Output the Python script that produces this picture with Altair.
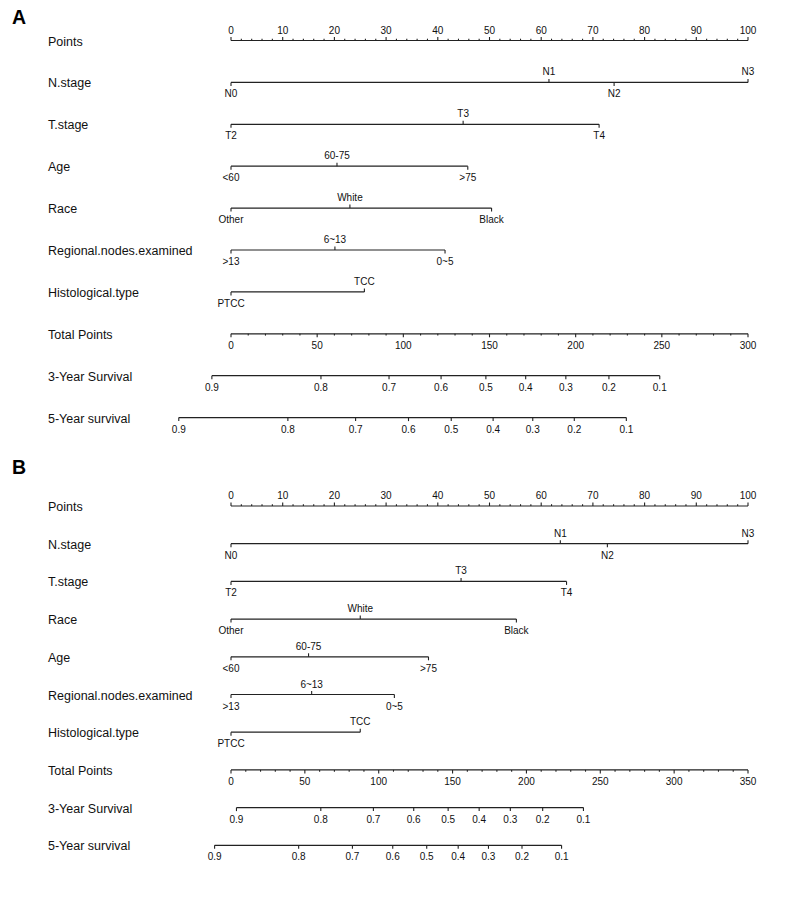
import altair as alt
import pandas as pd

# ---------------- data ----------------
SURV_LABELS = ["0.9", "0.8", "0.7", "0.6", "0.5", "0.4", "0.3", "0.2", "0.1"]

# Panel A
A_ROWS = ["Points", "N.stage", "T.stage", "Age", "Race", "Regional.nodes.examined",
          "Histological.type", "Total Points", "3-Year Survival", "5-Year survival"]
A_N_LEVELS = ["N0", "N1", "N2", "N3"]
A_N_PTS = [0, 61.5, 74.1, 100]
A_T_LEVELS = ["T2", "T3", "T4"]
A_T_PTS = [0, 44.9, 71.2]
A_AGE_LEVELS = ["<60", "60-75", ">75"]
A_AGE_PTS = [0, 20.5, 45.8]
A_RACE_LEVELS = ["Other", "White", "Black"]
A_RACE_PTS = [0, 23.0, 50.4]
A_NODES_LEVELS = [">13", "6~13", "0~5"]
A_NODES_PTS = [0, 20.1, 41.4]
A_HIST_LEVELS = ["PTCC", "TCC"]
A_HIST_PTS = [0, 25.8]
A_TOTAL_MAX = 300
A_SURV3_TP = [-11.1, 52.2, 91.7, 121.9, 147.9, 171.0, 194.3, 219.3, 248.8]
A_SURV5_TP = [-30.3, 33.0, 72.3, 103.0, 127.8, 152.1, 175.1, 199.2, 229.4]

# Panel B
B_ROWS = ["Points", "N.stage", "T.stage", "Race", "Age", "Regional.nodes.examined",
          "Histological.type", "Total Points", "3-Year Survival", "5-Year survival"]
B_N_LEVELS = ["N0", "N1", "N2", "N3"]
B_N_PTS = [0, 63.7, 72.8, 100]
B_T_LEVELS = ["T2", "T3", "T4"]
B_T_PTS = [0, 44.5, 64.9]
B_RACE_LEVELS = ["Other", "White", "Black"]
B_RACE_PTS = [0, 25.0, 55.2]
B_AGE_LEVELS = ["<60", "60-75", ">75"]
B_AGE_PTS = [0, 15.0, 38.2]
B_NODES_LEVELS = [">13", "6~13", "0~5"]
B_NODES_PTS = [0, 15.6, 31.6]
B_HIST_LEVELS = ["PTCC", "TCC"]
B_HIST_PTS = [0, 25.0]
B_TOTAL_MAX = 350
B_SURV3_TP = [3.7, 60.8, 96.4, 123.7, 147.0, 168.0, 189.1, 211.0, 238.6]
B_SURV5_TP = [-11.1, 45.8, 82.2, 109.5, 132.5, 153.8, 174.3, 197.0, 223.8]

# ---------------- style ----------------
FONT = "Liberation Sans"
LINE = "#222222"
TEXT = "#111111"
W = 794
H = 440
PX_PER_PT = 5.17
X_LO = -223 / PX_PER_PT
X_HI = X_LO + W / PX_PER_PT


def build_panel(letter, letter_y, rows, variables, total_max, surv3, surv5,
                spacing, first_y):
    segs, ticks, labels = [], [], []

    def tick(row, x, direction, length):
        # direction: +1 draws downward on page, -1 upward
        ticks.append(dict(row=row, x=x, y2=row + direction * length / spacing))

    # Points axis
    segs.append(dict(row=0, x=0, x2=100))
    for v in range(0, 101, 2):
        tick(0, v, -1, 3.5 if v % 10 == 0 else 1.8)
    for v in range(0, 101, 10):
        labels.append(dict(row=0, x=v, text=str(v), pos="above"))

    # variables
    for i, (lv, pt) in enumerate(variables, start=1):
        segs.append(dict(row=i, x=min(pt), x2=max(pt)))
        order = sorted(range(len(pt)), key=lambda k: pt[k])
        for rank, k in enumerate(order):
            below = rank % 2 == 0
            tick(i, pt[k], 1 if below else -1, 3.5)
            labels.append(dict(row=i, x=pt[k], text=lv[k],
                               pos="below" if below else "above"))

    # Total points
    sc = 100.0 / total_max
    segs.append(dict(row=7, x=0, x2=100))
    for v in range(0, total_max + 1, 10):
        tick(7, v * sc, 1, 3.5 if v % 50 == 0 else 1.8)
        if v % 50 == 0:
            labels.append(dict(row=7, x=v * sc, text=str(v), pos="below"))

    # survival
    for r, tp in [(8, surv3), (9, surv5)]:
        xs = [t * sc for t in tp]
        segs.append(dict(row=r, x=min(xs), x2=max(xs)))
        for xv, lab in zip(xs, SURV_LABELS):
            tick(r, xv, 1, 3.5)
            labels.append(dict(row=r, x=xv, text=lab, pos="below"))

    lo = -first_y / spacing
    hi = lo + H / spacing
    xs = alt.Scale(domain=[X_LO, X_HI], nice=False, zero=False)
    ys = alt.Scale(domain=[lo, hi], nice=False, zero=False, reverse=True)
    X = alt.X("x:Q", scale=xs, axis=None)
    Y = alt.Y("row:Q", scale=ys, axis=None)

    seg_df = pd.DataFrame(segs)
    tick_df = pd.DataFrame(ticks)
    lab_df = pd.DataFrame(labels)
    row_df = pd.DataFrame({"row": list(range(len(rows))), "name": rows})

    lines = alt.Chart(seg_df).mark_rule(color=LINE, strokeWidth=1.2).encode(
        x=X, x2="x2:Q", y=Y)
    tk = alt.Chart(tick_df).mark_rule(color=LINE, strokeWidth=1.1).encode(
        x=X, y=Y, y2="y2:Q")
    above = alt.Chart(lab_df).transform_filter(alt.datum.pos == "above").mark_text(
        font=FONT, fontSize=10, color=TEXT, baseline="middle", dy=-10).encode(
        x=X, y=Y, text="text:N")
    below = alt.Chart(lab_df).transform_filter(alt.datum.pos == "below").mark_text(
        font=FONT, fontSize=10, color=TEXT, baseline="middle", dy=12).encode(
        x=X, y=Y, text="text:N")
    names = alt.Chart(row_df).mark_text(
        font=FONT, fontSize=12.5, color=TEXT, align="left", baseline="middle",
        dy=1).encode(x=alt.value(40), y=Y, text="name:N")
    lett = alt.Chart(pd.DataFrame({"t": [letter]})).mark_text(
        font=FONT, fontSize=19.5, fontWeight="bold", color="#000000", align="left",
        baseline="top").encode(x=alt.value(4), y=alt.value(letter_y), text="t:N")

    return alt.layer(lines, tk, above, below, names, lett).properties(
        width=W, height=H)


panel_a = build_panel(
    "A", 0, A_ROWS,
    [(A_N_LEVELS, A_N_PTS), (A_T_LEVELS, A_T_PTS), (A_AGE_LEVELS, A_AGE_PTS),
     (A_RACE_LEVELS, A_RACE_PTS), (A_NODES_LEVELS, A_NODES_PTS),
     (A_HIST_LEVELS, A_HIST_PTS)],
    A_TOTAL_MAX, A_SURV3_TP, A_SURV5_TP, spacing=41.9, first_y=31.5)

panel_b = build_panel(
    "B", 10, B_ROWS,
    [(B_N_LEVELS, B_N_PTS), (B_T_LEVELS, B_T_PTS), (B_RACE_LEVELS, B_RACE_PTS),
     (B_AGE_LEVELS, B_AGE_PTS), (B_NODES_LEVELS, B_NODES_PTS),
     (B_HIST_LEVELS, B_HIST_PTS)],
    B_TOTAL_MAX, B_SURV3_TP, B_SURV5_TP, spacing=37.7, first_y=57)

chart = alt.vconcat(panel_a, panel_b, spacing=0, bounds="flush").properties(
    padding=0, background="white").configure_view(stroke=None)

chart.save("out.html", embed_options={"renderer": "svg", "actions": False})
